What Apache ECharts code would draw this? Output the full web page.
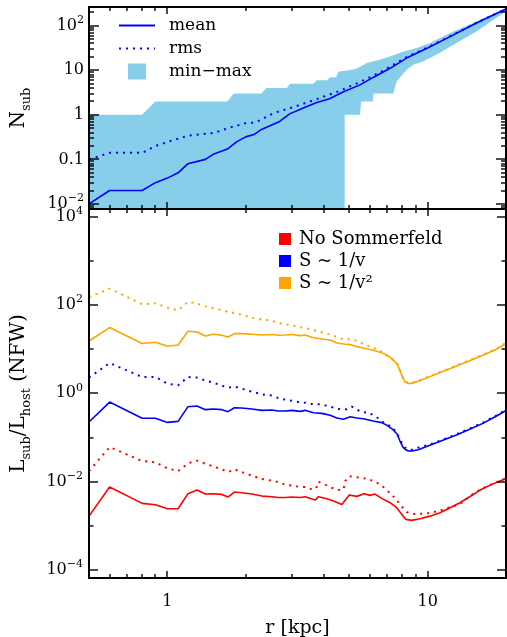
<!DOCTYPE html>
<html>
<head>
<meta charset="utf-8">
<script src="https://cdn.jsdelivr.net/npm/echarts@6/dist/echarts.min.js"></script>
<style>
  html, body { margin: 0; padding: 0; background: #fff; }
  #chart { width: 507px; height: 637px; }
</style>
</head>
<body>
<div id="chart"></div>
<script>
// ---------- upper panel: cumulative number of subhalos N_sub(<r) ----------
const meanR = [0.5, 0.6, 0.8, 0.9, 1.0, 1.1, 1.2, 1.4, 1.5, 1.7, 1.85, 2.0, 2.15, 2.3, 2.7, 2.95, 3.4, 3.75, 4.2, 4.75, 5.5, 6.2, 7.2, 8.3, 10, 12.2, 15.4, 20];
const meanN = [0.01, 0.02, 0.02, 0.03, 0.038, 0.05, 0.08, 0.10, 0.13, 0.17, 0.25, 0.32, 0.36, 0.47, 0.71, 1.05, 1.5, 1.9, 2.3, 3.3, 4.7, 7.0, 11.2, 18.8, 31.5, 57, 115, 237];

const rmsR = [0.5, 0.6, 0.8, 0.9, 1.05, 1.2, 1.5, 1.8, 2.0, 2.15, 2.3, 2.55, 3.05, 3.75, 4.5, 5.35, 6.4, 7.2, 8.3, 10, 12.2, 15.4, 20];
const rmsN = [0.1, 0.14, 0.14, 0.2, 0.27, 0.34, 0.39, 0.55, 0.65, 0.67, 0.78, 1.09, 1.49, 2.25, 3.3, 5.1, 8.3, 12.2, 19.8, 32.5, 58, 116, 238];

const bandMaxR = [0.5, 0.8, 0.9, 1.7, 1.8, 2.3, 2.4, 2.88, 2.96, 3.64, 3.75, 4.1, 4.22, 4.45, 4.55, 5.0, 5.34, 5.84, 6.47, 7.17, 8.08, 9.07, 10.2, 12.2, 15.4, 20];
const bandMax  = [1, 1, 2, 2, 3, 3, 4, 4, 5, 5, 6, 6, 7, 7, 9.4, 10, 11, 14.5, 17, 20.4, 26.4, 31.6, 41, 69, 125, 250];
const bandMinR = [0.5, 4.8, 4.8, 5.5, 5.55, 6.15, 6.2, 7.38, 7.6, 8.3, 8.81, 9.6, 11.1, 12.9, 15.4, 20];
const bandMin  = [0, 0, 1, 1, 2, 2, 3, 3, 5.6, 10.3, 13.3, 15.8, 24.3, 40.9, 74.5, 210];

// ---------- lower panel: L_sub / L_host for an NFW host ----------
const lumR = [0.5, 0.6, 0.8, 0.9, 1.0, 1.1, 1.2, 1.3, 1.4, 1.5, 1.62, 1.71, 1.81, 1.93, 2.11, 2.31, 2.52, 2.67, 2.84, 3.01, 3.24,
              3.38, 3.64, 3.92, 4.22, 4.48, 4.75, 5.04, 5.34, 5.66, 6.18, 6.66, 7.06, 7.38, 7.64, 7.83, 8.02, 8.18, 8.43, 8.68, 9.2,
              10.2, 11.5, 12.9, 14.5, 16.3, 18.4, 20];
const v2Mean = [15.3, 30.8, 13.4, 14.3, 11.6, 12.4, 25.4, 24.5, 19.9, 21.7, 20.6, 18.8, 22.5, 22.5, 21.7, 20.9, 21.4, 20.6, 20.9, 21.4, 20.3,
                20.9, 18.2, 17.0, 16.1, 13.8, 13.1, 12.7, 11.4, 10.6, 9.42, 8.34, 7.01, 5.69, 4.54, 3.2, 2.27, 1.81, 1.68, 1.68, 1.87,
                2.39, 3.15, 4.16, 5.5, 7.26, 9.93, 13.5];
const v1Mean = [0.224, 0.635, 0.272, 0.272, 0.220, 0.232, 0.499, 0.516, 0.427, 0.442, 0.427, 0.385, 0.473, 0.466, 0.442, 0.412, 0.42, 0.398, 0.398, 0.412, 0.391,
                0.412, 0.365, 0.352, 0.318, 0.276, 0.258, 0.296, 0.276, 0.267, 0.236, 0.217, 0.182, 0.148, 0.118, 0.0832, 0.062, 0.054, 0.0494, 0.0494, 0.053,
                0.0664, 0.0877, 0.114, 0.153, 0.209, 0.307, 0.41];

const noSomR = [0.5, 0.6, 0.8, 0.9, 1.0, 1.1, 1.2, 1.3, 1.4, 1.5, 1.62, 1.71, 1.81, 1.93, 2.11, 2.31, 2.52, 2.67, 2.84, 3.01, 3.24,
                3.38, 3.7, 3.8, 4.1, 4.35, 4.68, 5.0, 5.34, 5.7, 6.01, 6.28, 6.66, 7.17, 7.6, 7.95, 8.26, 8.68, 9.34, 10.2, 11.15, 12.2,
                13.3, 14.5, 15.9, 17.3, 18.9, 20];
const noSomMean = [0.00166, 0.00755, 0.00323, 0.00301, 0.00244, 0.00244, 0.00535, 0.00646, 0.00525, 0.00535, 0.00515, 0.00449, 0.00582, 0.00562, 0.00525, 0.00472, 0.00457, 0.0044, 0.0044, 0.00449, 0.0044,
                   0.00457, 0.00383, 0.00457, 0.00411, 0.00364, 0.00306, 0.00498, 0.00465, 0.00535, 0.0049, 0.00525, 0.00419, 0.00334, 0.00258, 0.00182, 0.0014, 0.00133, 0.00145, 0.00166, 0.00198, 0.00258,
                   0.00334, 0.00457, 0.00646, 0.00824, 0.0103, 0.0117];

const v2RmsR = [0.5, 0.6, 0.8, 0.9, 1.0, 1.1, 1.2, 1.3, 1.4, 1.5, 1.62, 1.71, 1.81, 1.93, 2.11, 2.31, 2.52, 2.67, 2.84, 3.01, 3.24,
                3.33, 3.75, 4.22, 4.75, 5.04, 5.34, 5.66, 6.01, 6.56, 7.17, 7.49, 7.64, 7.83, 8.02, 8.18, 8.43, 8.68, 9.2,
                10.2, 11.5, 12.9, 14.5, 16.3, 18.4, 20];
const v2Rms = [152, 235, 104, 109, 87, 75.8, 119, 108, 93.6, 84, 77, 69.5, 66, 60.5, 51.8, 46.7, 44.3, 39, 36.5, 34.7, 31.5,
               30.8, 25.8, 21.4, 16.7, 16.7, 15.6, 13.1, 11.4, 9.27, 6.3, 5.4, 4.8, 3.3, 2.35, 1.87, 1.73, 1.73, 1.93,
               2.46, 3.24, 4.28, 5.66, 7.48, 10.2, 13.9];

const v1RmsR = [0.5, 0.6, 0.8, 0.9, 1.0, 1.1, 1.2, 1.3, 1.4, 1.5, 1.62, 1.71, 1.81, 1.93, 2.11, 2.31, 2.52, 2.67, 2.84, 3.01, 3.24,
                3.38, 3.64, 3.92, 4.22, 4.61, 4.89, 5.11, 5.34, 5.58, 5.92, 6.28, 6.66, 6.96, 7.27, 7.6, 7.95, 8.18, 8.6, 9.2, 10.5,
                11.5, 12.9, 14.5, 16.3, 18.4, 20];
const v1Rms = [2.27, 4.86, 2.34, 2.34, 1.66, 1.52, 2.34, 2.27, 1.94, 1.75, 1.49, 1.35, 1.42, 1.28, 1.09, 0.95, 0.89, 0.78, 0.72, 0.68, 0.62,
               0.615, 0.563, 0.563, 0.499, 0.434, 0.434, 0.499, 0.434, 0.377, 0.365, 0.307, 0.236, 0.199, 0.176, 0.129, 0.0764, 0.059, 0.052, 0.059, 0.0738,
               0.091, 0.118, 0.159, 0.217, 0.318, 0.425];

const noSomRmsR = [0.5, 0.6, 0.8, 0.9, 1.0, 1.1, 1.2, 1.3, 1.4, 1.5, 1.62, 1.71, 1.81, 1.93, 2.11, 2.31, 2.52, 2.67, 2.84, 3.01, 3.24,
                   3.38, 3.59, 3.73, 3.8, 4.04, 4.28, 4.54, 4.75, 4.82, 5.0, 5.26, 5.58, 5.92, 6.28, 6.66, 6.96, 7.27, 7.6, 7.95, 8.31,
                   8.86, 9.48, 10.05, 10.8, 11.5, 12.2, 12.9, 13.7, 14.5, 15.9, 17.3, 18.9, 20];
const noSomRms = [0.0174, 0.0608, 0.0293, 0.0274, 0.02, 0.0174, 0.026, 0.0299, 0.0255, 0.0222, 0.019, 0.0165, 0.019, 0.0165, 0.0137, 0.0115, 0.0105, 0.0098, 0.00855, 0.0081, 0.0076,
                  0.00755, 0.0067, 0.00705, 0.01, 0.00855, 0.00731, 0.00646, 0.0067, 0.0103, 0.0134, 0.0127, 0.0123, 0.0113, 0.01, 0.00824, 0.00635, 0.00515, 0.00383, 0.00272, 0.00205,
                  0.00185, 0.00188, 0.00194, 0.00212, 0.00236, 0.00266, 0.0029, 0.00345, 0.0047, 0.0066, 0.0084, 0.0105, 0.0119];

// ---------- axes ----------
const rRange = [0.5, 20];
const nRange = [0.0077, 263];
const lRange = [6.6e-5, 1.49e4];

const rMajor = [1, 10];
const rMinor = [0.6, 0.7, 0.8, 0.9, 2, 3, 4, 5, 6, 7, 8, 9];
const nMajor = [0.01, 0.1, 1, 10, 100];
const nMinor = [0.008, 0.009,
  0.02, 0.03, 0.04, 0.05, 0.06, 0.07, 0.08, 0.09,
  0.2, 0.3, 0.4, 0.5, 0.6, 0.7, 0.8, 0.9,
  2, 3, 4, 5, 6, 7, 8, 9,
  20, 30, 40, 50, 60, 70, 80, 90, 200];
const lMajor = [1e-4, 1e-2, 1, 1e2, 1e4];
const lMinor = [1e-3, 1e-1, 10, 1e3];

const FONT = '"DejaVu Serif", serif';
const BLUE = '#0000ff', RED = '#ff0000', ORANGE = '#ffa500', SKY = '#87ceeb';

const zip = (xs, ys) => xs.map((x, i) => [x, ys[i]]);
const isDecade = v => Math.abs(Math.log10(v) - Math.round(Math.log10(v))) < 1e-6;

// ticks are drawn as a frame decoration of each panel, on all four sides
function frameRenderer(xTicks, yTicks) {
  return function (params, api) {
    const cs = params.coordSys;
    const x0 = cs.x, y0 = cs.y, x1 = cs.x + cs.width, y1 = cs.y + cs.height;
    const kids = [];
    const seg = (ax, ay, bx, by) => kids.push({
      type: 'line', shape: { x1: ax, y1: ay, x2: bx, y2: by },
      style: { stroke: '#000', lineWidth: 1.4 }
    });
    const yRef = yTicks[0][0], xRef = xTicks[0][0];
    xTicks.forEach(([v, len]) => {
      const px = Math.round(api.coord([v, yRef])[0]);
      seg(px, y1, px, y1 - len);
      seg(px, y0, px, y0 + len);
    });
    yTicks.forEach(([v, len]) => {
      const py = Math.round(api.coord([xRef, v])[1]);
      seg(x0, py, x0 + len, py);
      seg(x1, py, x1 - len, py);
    });
    kids.push({
      type: 'rect', shape: { x: x0, y: y0, width: cs.width, height: cs.height },
      style: { fill: 'none', stroke: '#000', lineWidth: 2 }
    });
    return { type: 'group', children: kids };
  };
}

const xTickList = rMajor.map(v => [v, 7]).concat(rMinor.map(v => [v, 4]));
const nTickList = nMajor.map(v => [v, 10]).concat(nMinor.map(v => [v, 5]));
const lTickList = lMajor.map(v => [v, 9]).concat(lMinor.map(v => [v, 4.5]));

const supRich = {
  b: { fontFamily: FONT, fontSize: 16, lineHeight: 22, color: '#000' },
  s: { fontFamily: FONT, fontSize: 11, lineHeight: 11, verticalAlign: 'top', color: '#000' }
};
const expStr = e => (e < 0 ? '\u2212' + (-e) : String(e));

function nLabel(v) {
  if (!isDecade(v)) return '';
  const e = Math.round(Math.log10(v));
  if (e === 1) return '{b|10}';
  if (e === 0) return '{b|1}';
  if (e === -1) return '{b|0.1}';
  return '{b|10}{s|' + expStr(e) + '}';
}
function lLabel(v) {
  if (!isDecade(v)) return '';
  const e = Math.round(Math.log10(v));
  if (e % 2 !== 0) return '';
  return '{b|10}{s|' + expStr(e) + '}';
}
function rLabel(v) {
  if (!isDecade(v)) return '';
  const e = Math.round(Math.log10(v));
  return e === 0 ? '1' : e === 1 ? '10' : '';
}

const nameRich = {
  m: { fontFamily: FONT, fontSize: 20, lineHeight: 28, color: '#000' },
  s: { fontFamily: FONT, fontSize: 13, lineHeight: 13, verticalAlign: 'bottom', color: '#000' }
};

function lineSeries(name, xs, ys, color, dotted, grid) {
  return {
    name: name, type: 'line', xAxisIndex: grid, yAxisIndex: grid,
    data: zip(xs, ys), symbol: 'none', color: color, z: 3,
    lineStyle: { color: color, width: dotted ? 2 : 1.6, type: dotted ? [2, 5] : 'solid' },
    animation: false
  };
}

const chart = echarts.init(document.getElementById('chart'), null, { renderer: 'canvas' });

chart.setOption({
  animation: false,
  backgroundColor: '#fff',
  grid: [
    { left: 89, top: 7, width: 417, height: 202, containLabel: false, outerBoundsMode: 'none' },
    { left: 89, top: 209, width: 417, height: 369, containLabel: false, outerBoundsMode: 'none' }
  ],
  xAxis: [0, 1].map(g => ({
    type: 'log', gridIndex: g, min: rRange[0], max: rRange[1], logBase: 10,
    axisLine: { show: false }, axisTick: { show: false }, splitLine: { show: false },
    axisLabel: {
      show: g === 1, margin: 16, formatter: rLabel,
      fontFamily: FONT, fontSize: 16, color: '#000'
    },
    name: g === 1 ? 'r [kpc]' : '', nameLocation: 'middle', nameGap: 41,
    nameTextStyle: { fontFamily: FONT, fontSize: 19, color: '#000' }
  })),
  yAxis: [
    {
      type: 'log', gridIndex: 0, min: nRange[0], max: nRange[1], logBase: 10,
      axisLine: { show: false }, axisTick: { show: false }, splitLine: { show: false },
      axisLabel: { margin: 5, formatter: nLabel, rich: supRich },
      name: '{m|N}{s|sub}', nameLocation: 'middle', nameGap: 56,
      nameTextStyle: { rich: nameRich }
    },
    {
      type: 'log', gridIndex: 1, min: lRange[0], max: lRange[1], logBase: 10,
      axisLine: { show: false }, axisTick: { show: false }, splitLine: { show: false },
      axisLabel: { margin: 6, formatter: lLabel, rich: supRich },
      name: '{m|L}{s|sub}{m|/L}{s|host}{m| (NFW)}', nameLocation: 'middle', nameGap: 56,
      nameTextStyle: { rich: nameRich }
    }
  ],
  legend: [
    {
      show: true, selectedMode: false, orient: 'vertical', left: 113, top: 12,
      itemWidth: 36, itemHeight: 16, itemGap: 6,
      itemStyle: { opacity: 0 },
      textStyle: { fontFamily: FONT, fontSize: 17, color: '#000', padding: [0, 0, 0, 9] },
      data: [
        { name: 'mean' },
        { name: 'rms' },
        { name: 'min\u2212max', icon: 'path://M0,0M36,16M9,0L27,0L27,16L9,16Z', itemStyle: { opacity: 1 } }
      ]
    },
    {
      show: true, selectedMode: false, orient: 'vertical', left: 274, top: 225,
      itemWidth: 12, itemHeight: 12, itemGap: 4, icon: 'rect',
      textStyle: { fontFamily: FONT, fontSize: 18, color: '#000', padding: [0, 0, 0, 3] },
      data: ['No Sommerfeld', 'S ~ 1/v', 'S ~ 1/v\u00b2']
    }
  ],
  series: [
    {
      name: 'min\u2212max', type: 'custom', xAxisIndex: 0, yAxisIndex: 0, z: 1, clip: true,
      itemStyle: { color: SKY }, silent: true,
      data: [[1, 1]],
      renderItem: function (params, api) {
        const pts = [];
        bandMaxR.forEach((r, i) => pts.push(api.coord([r, Math.max(bandMax[i], nRange[0])])));
        for (let i = bandMinR.length - 1; i >= 0; i--) {
          pts.push(api.coord([bandMinR[i], Math.max(bandMin[i], nRange[0])]));
        }
        return { type: 'polygon', shape: { points: pts }, style: { fill: SKY } };
      }
    },
    lineSeries('mean', meanR, meanN, BLUE, false, 0),
    lineSeries('rms', rmsR, rmsN, BLUE, true, 0),

    lineSeries('S ~ 1/v\u00b2', lumR, v2Mean, ORANGE, false, 1),
    lineSeries('S ~ 1/v\u00b2 rms', v2RmsR, v2Rms, ORANGE, true, 1),
    lineSeries('S ~ 1/v', lumR, v1Mean, BLUE, false, 1),
    lineSeries('S ~ 1/v rms', v1RmsR, v1Rms, BLUE, true, 1),
    lineSeries('No Sommerfeld', noSomR, noSomMean, RED, false, 1),
    lineSeries('No Sommerfeld rms', noSomRmsR, noSomRms, RED, true, 1),

    {
      type: 'custom', xAxisIndex: 0, yAxisIndex: 0, z: 10, silent: true, data: [[1, 1]],
      renderItem: frameRenderer(xTickList, nTickList)
    },
    {
      type: 'custom', xAxisIndex: 1, yAxisIndex: 1, z: 10, silent: true, data: [[1, 1]],
      renderItem: frameRenderer(xTickList, lTickList)
    }
  ]
});
</script>
</body>
</html>
